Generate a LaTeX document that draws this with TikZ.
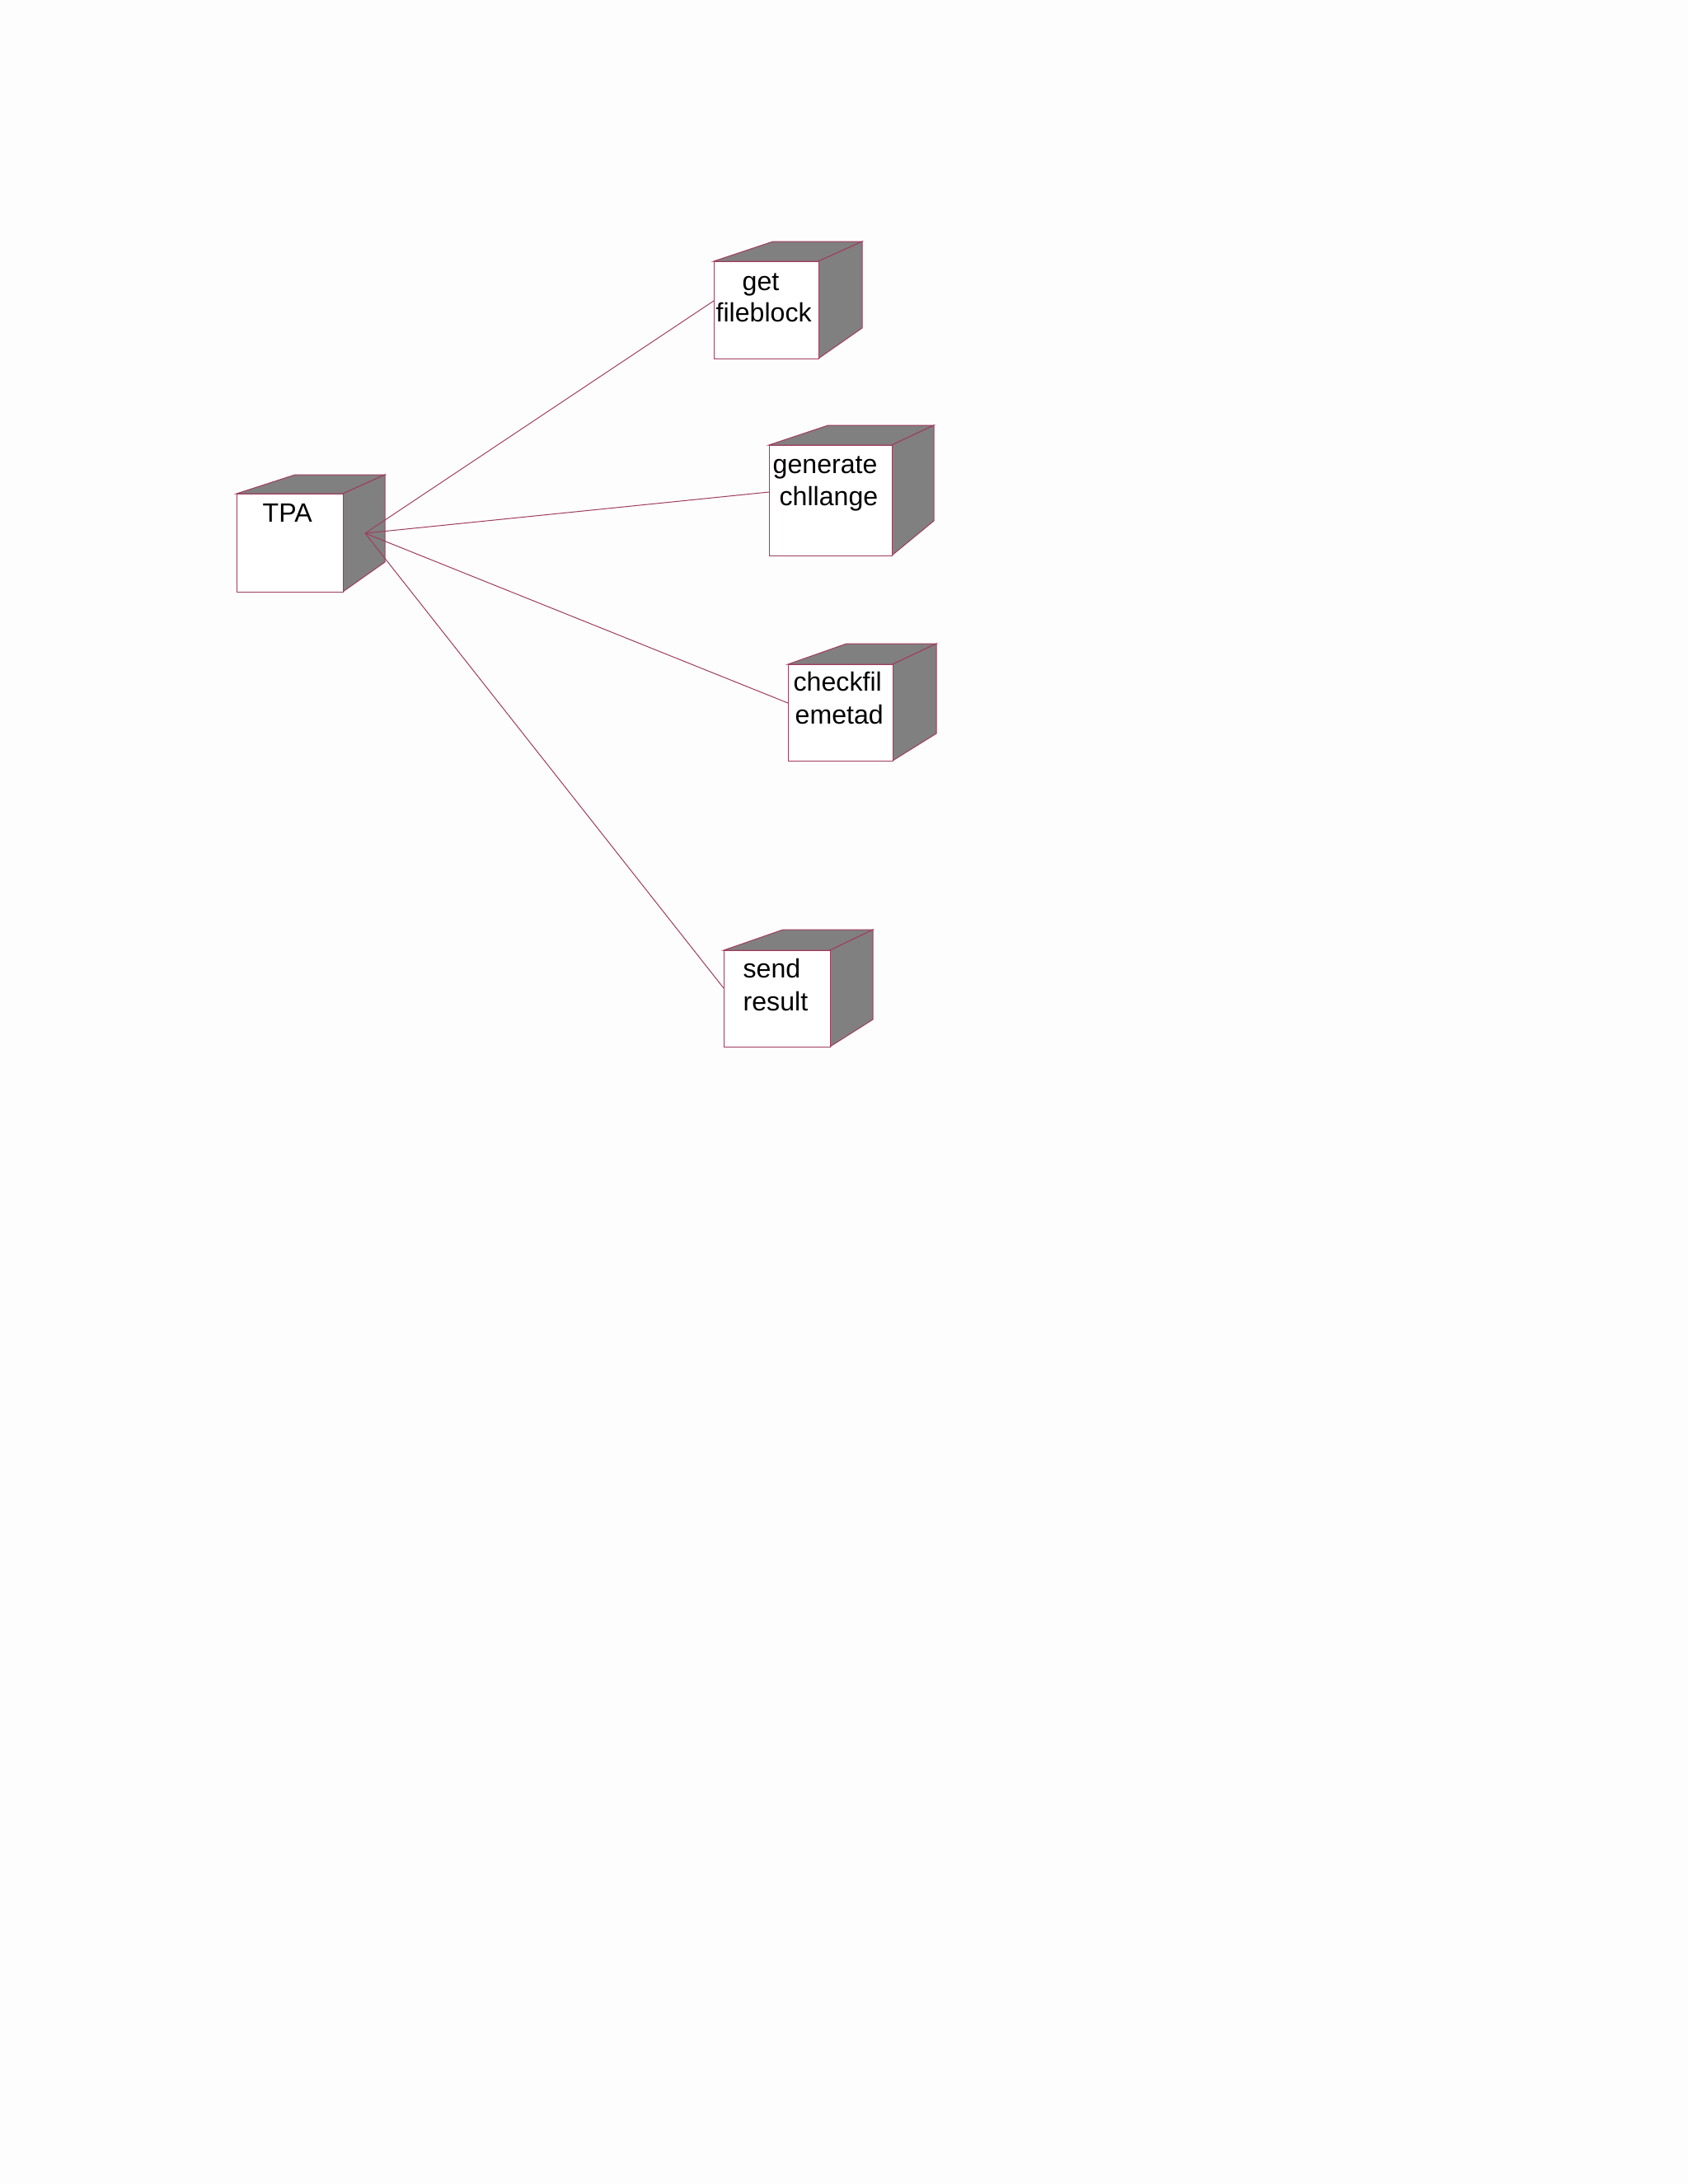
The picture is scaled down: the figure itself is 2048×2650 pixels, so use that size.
\documentclass[tikz,border=0pt]{standalone}
\usepackage{fontspec}
\setmainfont{Liberation Sans}
\definecolor{edge}{RGB}{160,60,95}
\definecolor{shade}{RGB}{128,128,128}
\definecolor{paper}{RGB}{253,253,253}
\tikzset{
  face/.style={draw=edge, line width=0.3pt, fill=white},
  sideface/.style={draw=edge, line width=0.3pt, fill=shade},
  conn/.style={draw=edge, line width=0.3pt},
  lbl/.style={anchor=base west, inner sep=0pt, font=\fontsize{9.6}{11.4}\selectfont}
}
% #1 name, #2 x1, #3 y1, #4 x2, #5 y2, #6 back-left x, #7 back-right x, #8 back y, #9 back bottom y
\newcommand{\mycube}[9]{%
  \filldraw[sideface] (#2,#3) -- (#6,#8) -- (#7,#8) -- (#4,#3) -- cycle;
  \filldraw[sideface] (#4,#3) -- (#7,#8) -- (#7,#9) -- (#4,#5) -- cycle;
  \filldraw[face] (#2,#3) rectangle (#4,#5);
  \coordinate (#1-nw) at (#2,#3);
}
\begin{document}
\begin{tikzpicture}[x=0.29883pt, y=-0.29883pt]
\fill[paper] (0,0) rectangle (2048,2650);
\useasboundingbox (0,0) rectangle (2048,2650);

\mycube{tpa}{287}{599}{416}{718}{358}{467}{576}{682}
\mycube{get}{866}{317}{993}{435}{938}{1046}{293}{398}
\mycube{gen}{933}{540}{1082}{674}{1005}{1133}{516}{632}
\mycube{chk}{956}{806}{1083}{923}{1027}{1136}{781}{890}
\mycube{snd}{878}{1153}{1007}{1270}{950}{1059}{1128}{1237}

\node[lbl] (tpatxt) at (318,633) {TPA};
\node[lbl] (gettxt1) at (900,352) {get};
\node[lbl] (gettxt2) at (868,390) {fileblock};
\node[lbl] (gentxt1) at (937,574) {generate};
\node[lbl] (gentxt2) at (945,613) {chllange};
\node[lbl] (chktxt1) at (962,838) {checkfil};
\node[lbl] (chktxt2) at (964,878) {emetad};
\node[lbl] (sndtxt1) at (901,1186) {send};
\node[lbl] (sndtxt2) at (901,1226) {result};

\coordinate (hub) at (443,647);
\coordinate (getin) at (866,365);
\coordinate (genin) at (933,597);
\coordinate (chkin) at (956,853);
\coordinate (sndin) at (878,1199);

\draw[conn] (hub) -- (getin);
\draw[conn] (hub) -- (genin);
\draw[conn] (hub) -- (chkin);
\draw[conn] (hub) -- (sndin);
\end{tikzpicture}
\end{document}
